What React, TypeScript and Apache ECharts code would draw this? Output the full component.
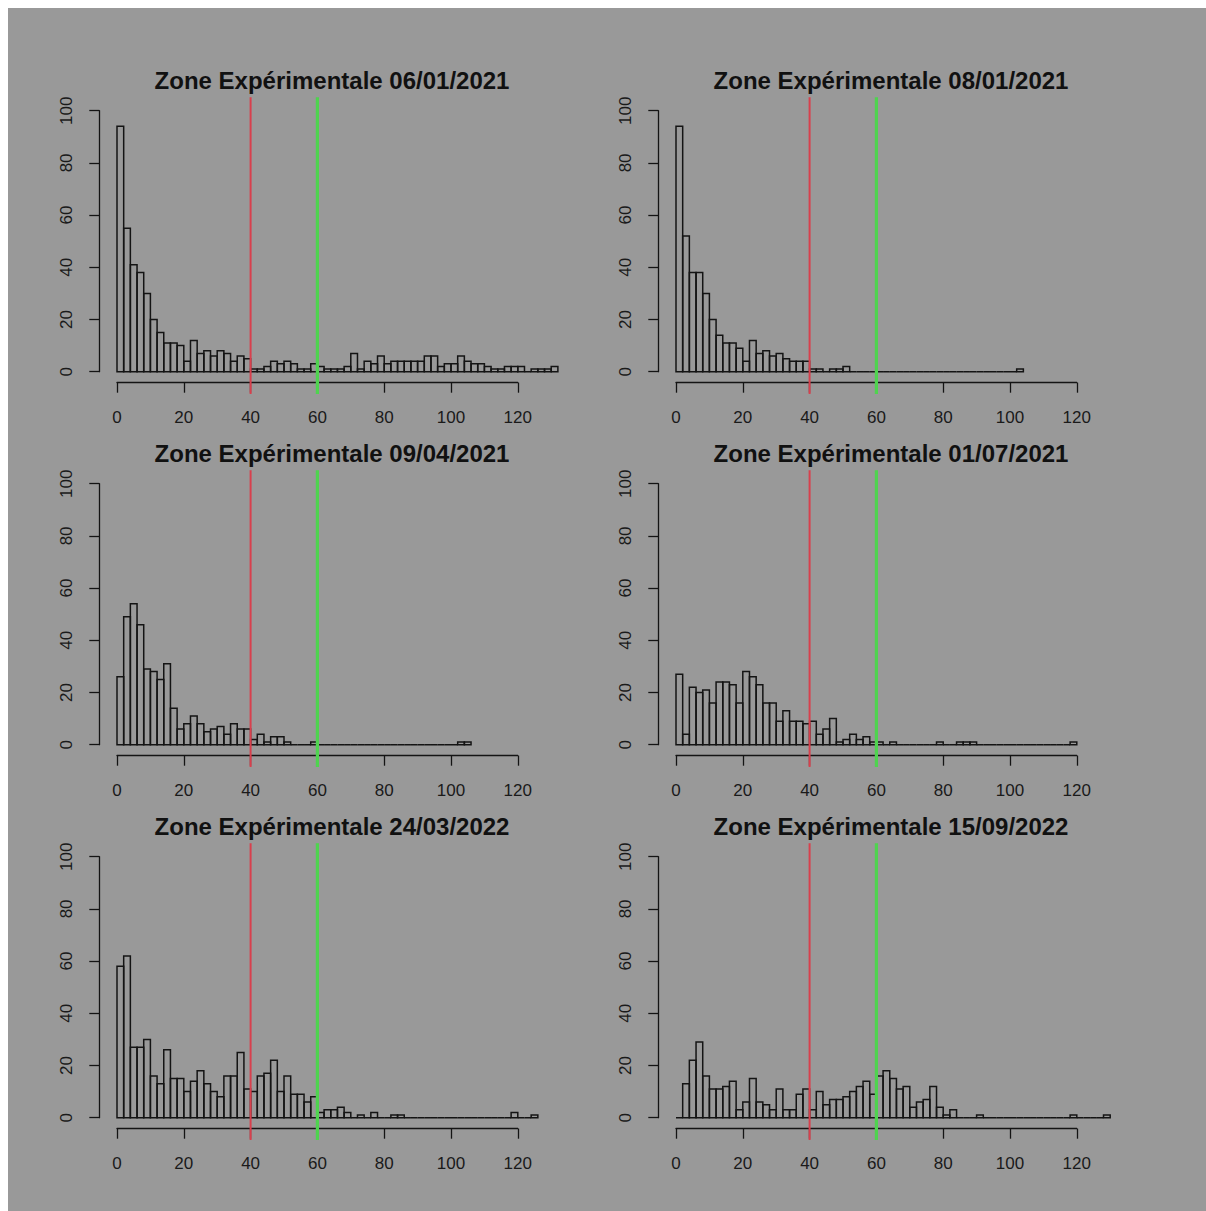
import React, { useEffect, useRef } from "react";
import * as echarts from "echarts";

// ---- data ----
const TITLES = [
  "Zone Expérimentale 06/01/2021",
  "Zone Expérimentale 08/01/2021",
  "Zone Expérimentale 09/04/2021",
  "Zone Expérimentale 01/07/2021",
  "Zone Expérimentale 24/03/2022",
  "Zone Expérimentale 15/09/2022",
];
const BIN_WIDTH = 2; // histogram breaks every 2 units, starting at 0

const COUNTS_06_01_2021 = [
  94, 55, 41, 38, 30, 20, 15, 11, 11, 10,
  4, 12, 7, 8, 6, 8, 7, 4, 6, 5,
  1, 1, 2, 4, 3, 4, 3, 1, 1, 3,
  2, 1, 1, 1, 2, 7, 1, 4, 3, 6,
  3, 4, 4, 4, 4, 4, 6, 6, 2, 3,
  3, 6, 4, 3, 3, 2, 1, 1, 2, 2,
  2, 0, 1, 1, 1, 2,
];
const COUNTS_08_01_2021 = [
  94, 52, 38, 38, 30, 20, 14, 11, 11, 9,
  4, 12, 7, 8, 6, 7, 5, 4, 4, 4,
  1, 1, 0, 1, 1, 2, 0, 0, 0, 0,
  0, 0, 0, 0, 0, 0, 0, 0, 0, 0,
  0, 0, 0, 0, 0, 0, 0, 0, 0, 0,
  0, 1,
];
const COUNTS_09_04_2021 = [
  26, 49, 54, 46, 29, 28, 25, 31, 14, 6,
  8, 11, 8, 5, 6, 7, 4, 8, 6, 6,
  2, 4, 1, 3, 3, 1, 0, 0, 0, 1,
  0, 0, 0, 0, 0, 0, 0, 0, 0, 0,
  0, 0, 0, 0, 0, 0, 0, 0, 0, 0,
  0, 1, 1,
];
const COUNTS_01_07_2021 = [
  27, 4, 22, 20, 21, 16, 24, 24, 23, 16,
  28, 26, 23, 16, 16, 9, 13, 9, 9, 8,
  9, 4, 6, 10, 1, 2, 4, 2, 3, 1,
  1, 0, 1, 0, 0, 0, 0, 0, 0, 1,
  0, 0, 1, 1, 1, 0, 0, 0, 0, 0,
  0, 0, 0, 0, 0, 0, 0, 0, 0, 1,
];
const COUNTS_24_03_2022 = [
  58, 62, 27, 27, 30, 16, 13, 26, 15, 15,
  10, 14, 18, 13, 10, 8, 16, 16, 25, 11,
  10, 16, 17, 22, 10, 16, 9, 9, 6, 8,
  2, 3, 3, 4, 2, 0, 1, 0, 2, 0,
  0, 1, 1, 0, 0, 0, 0, 0, 0, 0,
  0, 0, 0, 0, 0, 0, 0, 0, 0, 2,
  0, 0, 1,
];
const COUNTS_15_09_2022 = [
  0, 13, 22, 29, 16, 11, 11, 12, 14, 3,
  6, 15, 6, 5, 3, 11, 3, 3, 9, 11,
  3, 10, 5, 7, 7, 8, 10, 12, 14, 9,
  16, 18, 15, 11, 12, 4, 6, 7, 12, 4,
  1, 3, 0, 0, 0, 1, 0, 0, 0, 0,
  0, 0, 0, 0, 0, 0, 0, 0, 0, 1,
  0, 0, 0, 0, 1,
];
const PANEL_COUNTS = [
  COUNTS_06_01_2021,
  COUNTS_08_01_2021,
  COUNTS_09_04_2021,
  COUNTS_01_07_2021,
  COUNTS_24_03_2022,
  COUNTS_15_09_2022,
];
const THRESHOLDS = [40, 60];

// ---- styles / layout ----
const THRESHOLD_COLORS = ["#d8404d", "#4fd34f"];
const THRESHOLD_WIDTHS = [2, 3.2];
const LINE_TOP = 105.2;
const LINE_BOTTOM = -8.5;
const X_MIN = 0, X_MAX = 120, X_STEP = 20;
const Y_MIN = 0, Y_MAX = 100, Y_STEP = 20;
const CHART_W = 1198, CHART_H = 1203;
const COL_LEFT = [109, 668];
const ROW_TOP = [102.7, 475.7, 848.7];
const GRID_W = 400.8;
const GRID_H = 261;
const FONT = '"Liberation Sans", Arial, Helvetica, sans-serif';
const INK = "#141414";

const barRender = (params: any, api: any) => {
  const x0 = api.value(0);
  const h = api.value(1);
  const p0 = api.coord([x0, 0]);
  const p1 = api.coord([x0 + BIN_WIDTH, h]);
  return {
    type: "polygon",
    shape: {
      points: [
        [p0[0], p0[1]],
        [p1[0], p0[1]],
        [p1[0], p1[1]],
        [p0[0], p1[1]],
      ],
    },
    style: { fill: "none", stroke: INK, lineWidth: 1.5 },
  };
};

const lineRender = (params: any, api: any) => {
  const x = api.value(0);
  const j = api.value(1);
  const a = api.coord([x, LINE_TOP]);
  const b = api.coord([x, LINE_BOTTOM]);
  return {
    type: "line",
    shape: { x1: a[0], y1: a[1], x2: b[0], y2: b[1] },
    style: { stroke: THRESHOLD_COLORS[j], lineWidth: THRESHOLD_WIDTHS[j] },
  };
};

export default function App() {
  const ref = useRef<HTMLDivElement>(null);
  useEffect(() => {
    if (!ref.current) return;
    const chart = echarts.init(ref.current, undefined, { renderer: "svg" });
    const idx = PANEL_COUNTS.map((_, i) => i);
    const option: any = {
      animation: false,
      backgroundColor: "#999999",
      grid: idx.map((i) => ({
        left: COL_LEFT[i % 2],
        top: ROW_TOP[Math.floor(i / 2)],
        width: GRID_W,
        height: GRID_H,
        containLabel: false,
      })),
      xAxis: idx.map((i) => ({
        type: "value",
        gridIndex: i,
        min: X_MIN,
        max: X_MAX,
        interval: X_STEP,
        offset: 11,
        axisLine: { show: true, onZero: false, lineStyle: { color: INK, width: 1.3 } },
        axisTick: { show: true, inside: false, length: 10, lineStyle: { color: INK, width: 1.3 } },
        axisLabel: {
          show: true,
          margin: 26,
          color: "#1a1a1a",
          fontSize: 17,
          fontFamily: FONT,
          showMinLabel: true,
          showMaxLabel: true,
        },
        splitLine: { show: false },
      })),
      yAxis: idx.map((i) => ({
        type: "value",
        gridIndex: i,
        min: Y_MIN,
        max: Y_MAX,
        interval: Y_STEP,
        offset: 17.7,
        axisLine: { show: true, onZero: false, lineStyle: { color: INK, width: 1.3 } },
        axisTick: { show: true, inside: false, length: 10, lineStyle: { color: INK, width: 1.3 } },
        axisLabel: {
          show: true,
          rotate: 90,
          margin: 24,
          color: "#1a1a1a",
          fontSize: 17,
          fontFamily: FONT,
          showMinLabel: true,
          showMaxLabel: true,
        },
        splitLine: { show: false },
      })),
      series: [
        ...idx.map((i) => ({
          type: "custom",
          name: TITLES[i],
          xAxisIndex: i,
          yAxisIndex: i,
          clip: false,
          silent: true,
          data: PANEL_COUNTS[i].map((c, k) => [k * BIN_WIDTH, c]),
          renderItem: barRender,
        })),
        ...idx.map((i) => ({
          type: "custom",
          xAxisIndex: i,
          yAxisIndex: i,
          clip: false,
          silent: true,
          z: 5,
          data: THRESHOLDS.map((t, j) => [t, j]),
          renderItem: lineRender,
        })),
      ],
      graphic: idx.map((i) => ({
        type: "text",
        x: COL_LEFT[i % 2] + 215,
        y: ROW_TOP[Math.floor(i / 2)] - 30.5,
        style: {
          text: TITLES[i],
          fill: "#111111",
          fontSize: 24,
          fontWeight: "bold",
          fontFamily: FONT,
          align: "center",
          verticalAlign: "middle",
          textAlign: "center",
          textVerticalAlign: "middle",
        },
      })),
    };
    chart.setOption(option);
    return () => chart.dispose();
  }, []);
  return (
    <div
      ref={ref}
      style={{ position: "absolute", left: 8, top: 8, width: CHART_W, height: CHART_H }}
    />
  );
}
